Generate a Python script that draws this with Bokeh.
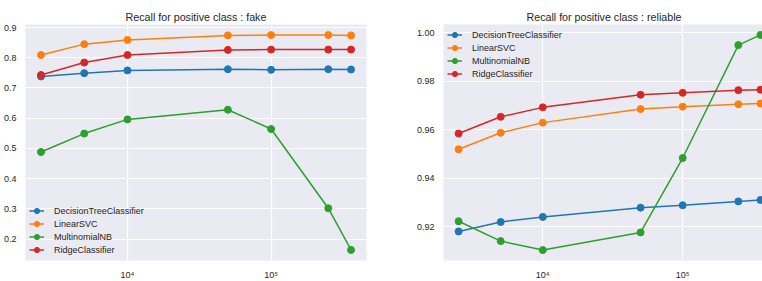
from bokeh.plotting import figure
from bokeh.layouts import row
from bokeh.models import FixedTicker, CustomJSTickFormatter, NumeralTickFormatter, Range1d
from bokeh.embed import file_html
from bokeh.resources import INLINE

# ---- data ----
train_sizes = [2500, 5000, 10000, 50000, 100000, 250000, 360000]
classifiers = ["DecisionTreeClassifier", "LinearSVC", "MultinomialNB", "RidgeClassifier"]
colors = ["#1f77b4", "#ff7f0e", "#2ca02c", "#d62728"]

fake_decision_tree = [0.738, 0.749, 0.758, 0.762, 0.760, 0.762, 0.761]
fake_linear_svc = [0.809, 0.845, 0.859, 0.874, 0.875, 0.875, 0.874]
fake_multinomial_nb = [0.488, 0.549, 0.596, 0.628, 0.564, 0.302, 0.164]
fake_ridge = [0.743, 0.784, 0.809, 0.826, 0.827, 0.827, 0.827]

reliable_decision_tree = [0.9181, 0.9220, 0.9241, 0.9279, 0.9289, 0.9305, 0.9311]
reliable_linear_svc = [0.9520, 0.9588, 0.9630, 0.9686, 0.9696, 0.9706, 0.9709]
reliable_multinomial_nb = [0.9223, 0.9141, 0.9104, 0.9177, 0.9484, 0.9950, 0.9992]
reliable_ridge = [0.9585, 0.9654, 0.9693, 0.9745, 0.9753, 0.9764, 0.9766]

fake_series = [fake_decision_tree, fake_linear_svc, fake_multinomial_nb, fake_ridge]
reliable_series = [reliable_decision_tree, reliable_linear_svc, reliable_multinomial_nb, reliable_ridge]

fake_yticks = [0.2, 0.3, 0.4, 0.5, 0.6, 0.7, 0.8, 0.9]
reliable_yticks = [0.92, 0.94, 0.96, 0.98, 1.00]
x_ticks = [1e4, 1e5]

FONT = "Liberation Sans"
TEXT = "#262626"
BG = "#EAEAF2"


def make_fig(title, series, y_start, y_end, yticks, yfmt, x_end, frame_w,
             min_left, min_right, legend_loc, legend_margin):
    p = figure(x_axis_type="log",
               x_range=Range1d(10 ** 3.29, x_end),
               y_range=Range1d(y_start, y_end),
               frame_width=frame_w, frame_height=236,
               output_backend="svg", toolbar_location=None,
               background_fill_color=BG, border_fill_color="white",
               min_border_left=min_left, min_border_right=min_right,
               min_border_top=0, min_border_bottom=0)
    p.margin = (6, 0, 0, 0)
    p.outline_line_color = None

    p.title.text = title
    p.title.align = "center"
    p.title.text_font = FONT
    p.title.text_font_size = "10.7px"
    p.title.text_font_style = "normal"
    p.title.text_color = TEXT
    p.title.standoff = 4

    p.xaxis.ticker = FixedTicker(ticks=x_ticks, minor_ticks=[])
    p.xaxis.formatter = CustomJSTickFormatter(code="""
        const e = Math.round(Math.log10(tick));
        const sup = {3: "\\u00b3", 4: "\\u2074", 5: "\\u2075", 6: "\\u2076"};
        return "10" + sup[e];
    """)
    p.yaxis.ticker = FixedTicker(ticks=yticks, minor_ticks=[])
    p.yaxis.formatter = NumeralTickFormatter(format=yfmt)

    for ax in (p.xaxis, p.yaxis):
        ax.axis_line_color = None
        ax.major_tick_line_color = None
        ax.minor_tick_line_color = None
        ax.major_label_standoff = 3
        ax.major_label_text_font = FONT
        ax.major_label_text_font_size = "9px"
        ax.major_label_text_color = TEXT

    p.xgrid.grid_line_color = "white"
    p.ygrid.grid_line_color = "white"
    p.xgrid.grid_line_width = 1.2
    p.ygrid.grid_line_width = 1.2

    for name, color, vals in zip(classifiers, colors, series):
        p.line(train_sizes, vals, line_color=color, line_width=1.5, legend_label=name)
        p.scatter(train_sizes, vals, size=7, fill_color=color, line_color=color,
                  legend_label=name)

    lg = p.legend[0]
    lg.location = legend_loc
    lg.background_fill_alpha = 0
    lg.border_line_alpha = 0
    lg.label_text_font = FONT
    lg.label_text_font_size = "9px"
    lg.label_text_color = TEXT
    lg.glyph_width = 15
    lg.glyph_height = 13
    lg.label_height = 13
    lg.spacing = 0
    lg.label_standoff = 10
    lg.margin = legend_margin
    lg.padding = 2
    return p


p1 = make_fig("Recall for positive class : fake", fake_series, 0.129, 0.910,
              fake_yticks, "0.0", 10 ** 5.664, 341, 16, 47, "bottom_left", 2)
p2 = make_fig("Recall for positive class : reliable", reliable_series, 0.9061, 1.0035,
              reliable_yticks, "0.00", 10 ** 5.585, 321, 20, 0, "top_left", 2)

layout = row(p1, p2)
open("out.html", "w").write(file_html(layout, INLINE))
